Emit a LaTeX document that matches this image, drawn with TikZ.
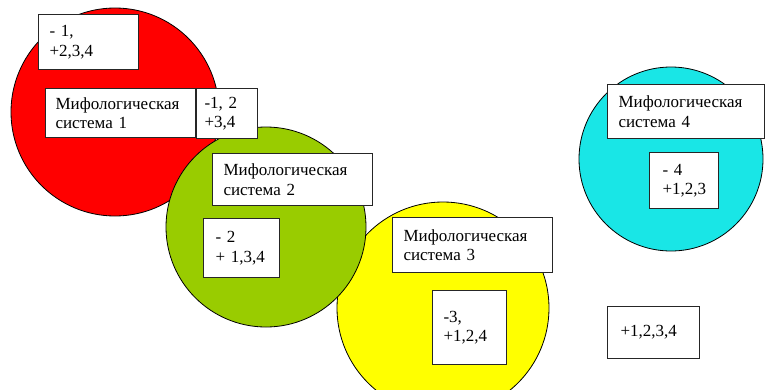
\documentclass[tikz,border=0pt]{standalone}
\usepackage{fontspec}
\newfontfamily\serifru{Liberation Serif}
\usepackage{tikz}
\usetikzlibrary{positioning}
\definecolor{mred}{RGB}{255,0,0}
\definecolor{mgreen}{RGB}{153,204,0}
\definecolor{myellow}{RGB}{255,255,0}
\definecolor{mcyan}{RGB}{25,230,230}
\tikzset{
    krug/.style={circle, draw=black, line width=0.8pt, inner sep=0pt},
    ramka/.style={rectangle, draw=black!85, fill=white, line width=1.1pt, anchor=north west,
      align=left, inner xsep=11pt, inner ysep=0pt,
      font=\serifru\fontsize{17}{19.5}\selectfont}
}

\begin{document}
\begin{tikzpicture}[x=1pt, y=-1pt]
  \clip (0,0) rectangle (771,389);
  \useasboundingbox (0,0) rectangle (771,389);

  % circles
  \node[krug, fill=mred,    minimum size=208pt] (k1) at (115,112) {};
  \node[krug, fill=myellow, minimum size=212pt] (k3) at (443,308) {};
  \node[krug, fill=mgreen,  minimum size=200pt] (k2) at (266,227) {};
  \node[krug, fill=mcyan,   minimum size=184pt] (k4) at (671,159) {};

  % labels
  \node[ramka, text width=78pt,  minimum height=55pt] (b1)  at (38,14)  {- 1,\\+2,3,4};
  \node[ramka, text width=130pt, minimum height=49pt, inner xsep=10pt] (s1)  at (45,88)  {Мифологическая\\система 1};
  \node[ramka, text width=45pt,  minimum height=50pt, inner xsep=8pt] (b12) at (196,88) {-1, 2\\+3,4};
  \node[ramka, text width=138pt, minimum height=52pt] (s2)  at (212,153) {Мифологическая\\система 2};
  \node[ramka, text width=52pt,  minimum height=59pt, inner xsep=12pt] (b2)  at (203,218) {- 2\\+ 1,3,4};
  \node[ramka, text width=138pt, minimum height=55pt] (s3)  at (392,217) {Мифологическая\\система 3};
  \node[ramka, text width=52pt,  minimum height=74pt] (b3)  at (432,290) {-3,\\+1,2,4};
  \node[ramka, text width=135pt, minimum height=54pt] (s4)  at (607,84)  {Мифологическая\\система 4};
  \node[ramka, text width=43pt,  minimum height=56pt, inner xsep=13pt] (b4) at (649,152) {- 4\\+1,2,3};
  \node[ramka, text width=66pt,  minimum height=52pt, inner xsep=13pt] (b0) at (607,306) {+1,2,3,4};
\end{tikzpicture}
\end{document}
